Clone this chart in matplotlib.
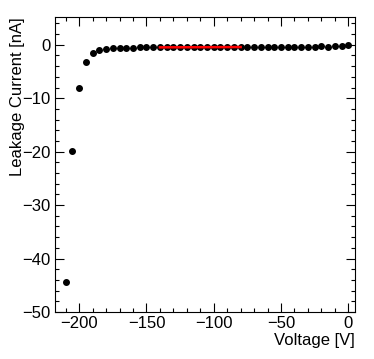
import matplotlib
matplotlib.use('Agg')
import matplotlib.pyplot as plt
from matplotlib.ticker import MultipleLocator

plt.rcParams['font.family'] = ['Liberation Sans', 'DejaVu Sans']

voltage = [-210, -205, -200, -195, -190, -185, -180, -175, -170, -165,
           -160, -155, -150, -145, -140, -135, -130, -125, -120, -115,
           -110, -105, -100, -95, -90, -85, -80, -75, -70, -65,
           -60, -55, -50, -45, -40, -35, -30, -25, -20, -15,
           -10, -5, 0]
current = [-44.4, -19.8, -8.1, -3.3, -1.5, -0.95, -0.75, -0.65, -0.6, -0.55,
           -0.55, -0.5, -0.5, -0.5, -0.48, -0.5, -0.46, -0.47, -0.45, -0.46,
           -0.44, -0.45, -0.43, -0.44, -0.42, -0.43, -0.42, -0.4, -0.41, -0.39,
           -0.4, -0.38, -0.37, -0.38, -0.36, -0.36, -0.34, -0.33, -0.32, -0.33,
           -0.3, -0.15, -0.1]

fit_range = [-140, -80]
fit_values = [-0.48, -0.42]

fig = plt.figure(figsize=(3.74, 3.59), dpi=100)
ax = fig.add_axes([55/374, 1 - 312/359, 300/374, 295/359])

ax.plot(voltage, current, 'o', color='black', markersize=4)
ax.plot(fit_range, fit_values, '-', color='red', linewidth=1.8)

ax.set_xlim(-218, 5)
ax.set_ylim(-50, 5.2)

ax.xaxis.set_major_locator(MultipleLocator(50))
ax.xaxis.set_minor_locator(MultipleLocator(10))
ax.yaxis.set_major_locator(MultipleLocator(10))
ax.yaxis.set_minor_locator(MultipleLocator(2))
ax.tick_params(which='both', direction='in', top=True, right=True, labelsize=12)
ax.tick_params(which='major', length=6.5, width=0.8, pad=3)
ax.tick_params(which='minor', length=3, width=0.8)

ax.set_xlabel('Voltage [V]', fontsize=12, loc='right', labelpad=1)
ax.set_ylabel('Leakage Current [nA]', fontsize=12, loc='top', labelpad=-2)

plt.savefig('out.png', dpi=100)
